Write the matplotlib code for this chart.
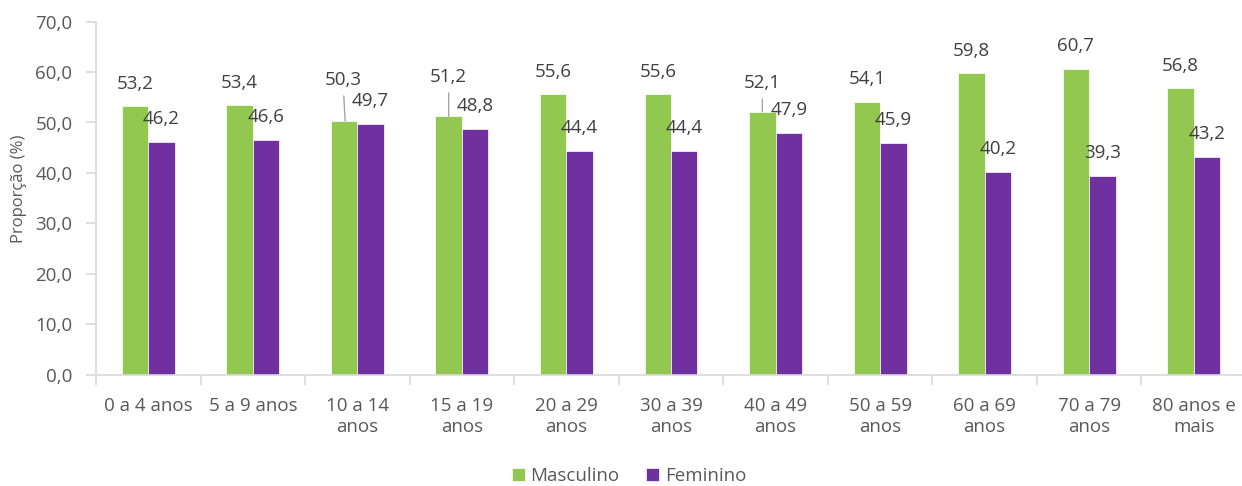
import matplotlib
matplotlib.use("Agg")
import matplotlib.pyplot as plt
import numpy as np

categories = ["0 a 4 anos", "5 a 9 anos", "10 a 14\nanos", "15 a 19\nanos", "20 a 29\nanos",
              "30 a 39\nanos", "40 a 49\nanos", "50 a 59\nanos", "60 a 69\nanos",
              "70 a 79\nanos", "80 anos e\nmais"]
masculino = [53.2, 53.4, 50.3, 51.2, 55.6, 55.6, 52.1, 54.1, 59.8, 60.7, 56.8]
feminino = [46.2, 46.6, 49.7, 48.8, 44.4, 44.4, 47.9, 45.9, 40.2, 39.3, 43.2]
yticks = [0, 10, 20, 30, 40, 50, 60, 70]

plt.rcParams['font.family'] = ['Open Sans', 'DejaVu Sans']
GREEN = "#92C850"
PURPLE = "#7030A0"
TXT = "#595959"
LBL = "#404040"
AX = "#D9D9D9"
FS = 13.5

W, H = 1242, 486
fig = plt.figure(figsize=(W / 100, H / 100), dpi=100)
ax = fig.add_axes([96 / W, (H - 374.5) / H, 1150 / W, (374.5 - 21.7) / H])

x = np.arange(len(categories))
bw = 0.253
b1 = ax.bar(x - bw / 2, masculino, bw, color=GREEN, edgecolor="white", linewidth=0.5, label="Masculino")
b2 = ax.bar(x + bw / 2, feminino, bw, color=PURPLE, edgecolor="white", linewidth=0.5, label="Feminino")

ax.set_xlim(-0.5, len(categories) - 0.5)
ax.set_ylim(0, 70)
ax.set_yticks(yticks)
ax.set_yticklabels([f"{v:.1f}".replace(".", ",") for v in yticks])
ax.set_xticks(x)
ax.set_xticklabels(categories, linespacing=1.25)
ax.set_xticks(np.arange(len(categories) + 1) - 0.5, minor=True)
ax.tick_params(axis='x', which='major', length=0, pad=16, labelsize=FS, labelcolor=TXT)
ax.tick_params(axis='x', which='minor', length=7, color=AX, width=1.2)
ax.tick_params(axis='y', length=7, color=AX, width=1.2, pad=10, labelsize=FS, labelcolor=TXT)

for s in ['top', 'right']:
    ax.spines[s].set_visible(False)
for s in ['left', 'bottom']:
    ax.spines[s].set_color(AX)
    ax.spines[s].set_linewidth(1.2)

ax.set_ylabel("Proporção (%)", fontsize=12, color=TXT)
ax.yaxis.set_label_coords(-(96 - 27) / 1150, (374.5 - 189) / (374.5 - 21.7))

px = 0.72
fmt = lambda v: f"{v:.1f}".replace(".", ",")
special = {2: (-2.3, 41), 3: (0, 39.5), 6: (0, 29)}
for i, v in enumerate(masculino):
    xc = x[i] - bw / 2
    if i in special:
        dx, dy = special[i]
        ax.annotate(fmt(v), xy=(xc + (0.01 if i == 2 else 0), v), xytext=(dx * px, dy * px),
                    textcoords="offset points", ha="center", va="center",
                    fontsize=FS, color=LBL,
                    arrowprops=dict(arrowstyle='-', color="#A6A6A6", lw=1, shrinkA=3, shrinkB=0))
    else:
        ax.annotate(fmt(v), xy=(xc, v), xytext=(0, 22.5 * px), textcoords="offset points",
                    ha="center", va="center", fontsize=FS, color=LBL)
for i, v in enumerate(feminino):
    xc = x[i] + bw / 2
    ax.annotate(fmt(v), xy=(xc, v), xytext=(0, 23 * px), textcoords="offset points",
                ha="center", va="center", fontsize=FS, color=LBL)

leg = fig.legend(handles=[b1, b2], labels=["Masculino", "Feminino"], loc="center",
                 bbox_to_anchor=(629 / W, 1 - 476 / H), ncol=2, frameon=False,
                 fontsize=FS, handlelength=0.7, handleheight=0.7, handletextpad=0.3,
                 columnspacing=1.4, labelcolor=TXT)

fig.savefig("out.png", dpi=100)
